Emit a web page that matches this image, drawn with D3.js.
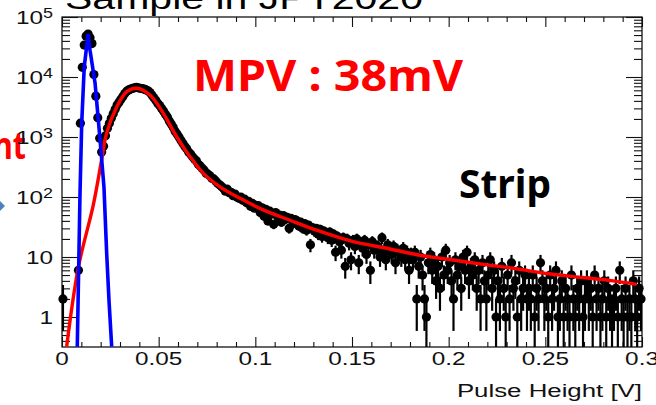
<!DOCTYPE html>
<html>
<head>
<meta charset="utf-8">
<script src="https://cdnjs.cloudflare.com/ajax/libs/d3/7.8.5/d3.min.js"></script>
<style>
  body { margin: 0; background: #fff; }
  svg { display: block; }
</style>
</head>
<body>
<div id="chart"></div>
<script>
// Histogram: 1 mV bins from 0 to 0.3 V
const binWidth = 0.001;
const countsPedestal = [2, 0, 0, 0, 0, 0, 0, 0, 6, 1700, 14500, 34000, 48000, 52000, 45000, 36000, 11000, 4800, 2100, 950, 560];
const countsPeak = [700, 1050, 1400, 1700, 2050, 2450, 2900, 3400, 3800, 4250, 4750, 5300, 5800, 6100, 6300, 6500, 6600, 6700, 6600, 6500,
  6400, 6300, 6100, 5900, 5500, 5000, 4500, 4100, 3650, 3350, 3000, 2700, 2400, 2150, 1850, 1650, 1450, 1250, 1120, 1000];
const countsFall = [880, 790, 700, 640, 560, 520, 470, 430, 400, 350, 330, 300, 280, 250, 240, 225, 205, 200, 185, 170,
  160, 150, 140, 125, 135, 118, 120, 105, 112, 100, 95, 100, 88, 92, 80, 85, 70, 78, 65, 72,
  72, 55, 66, 48, 62, 40, 58, 52, 35, 55, 47, 50, 38, 49, 42, 46, 30, 44, 36, 42];
const countsTail = [40, 33, 38, 30, 36, 28, 34, 16, 31, 27, 30, 24, 29, 22, 27, 25, 21, 26, 19, 24, 12, 22, 18, 13, 21, 7, 20, 17, 9, 19,
  15, 20, 8, 17, 14, 19, 11, 16, 6, 18, 13, 15, 15, 10, 21, 12, 9, 16, 14, 11, 15, 8, 13, 12, 10, 14, 9, 12, 6, 11,
  9, 12, 2, 7, 10, 5, 2, 1, 8, 11, 6, 9, 4, 7, 3, 10, 5, 13, 6, 8, 4, 2, 9, 5, 7, 3, 10, 6, 12, 4,
  7, 5, 9, 3, 6, 2, 8, 4, 2, 5, 9, 3, 6, 1, 4, 2, 7, 3, 1, 5, 2, 8, 3, 4, 1, 6, 2, 3, 5, 2,
  3, 2, 5, 1, 3, 2, 8, 4, 2, 3, 1, 5, 2, 3, 6, 1, 2, 4, 1, 3, 2, 1, 5, 2, 1, 3, 2, 4, 1, 2,
  4, 2, 3, 1, 5, 2, 3, 1, 2, 4, 1, 3, 2, 1, 2, 3, 1, 6, 2, 1, 3, 1, 2, 1, 4, 2, 1, 3, 2];

// Gaussian fit of the pedestal (blue) and Landau fit of the signal (red)
const pedFitV = [0.0079, 0.0093, 0.0102, 0.0115, 0.0135, 0.0145, 0.0171, 0.0197, 0.0217, 0.0231, 0.0243, 0.0257];
const pedFitN = [0.32, 108, 1700, 14700, 52000, 28000, 7900, 890, 147, 11.7, 1.9, 0.32];
const fitV = [0.0024, 0.0084, 0.0162, 0.0205, 0.0231, 0.0283, 0.0335, 0.0386, 0.0455, 0.0524, 0.0593, 0.0662, 0.0731, 0.0817,
  0.0921, 0.1041, 0.1179, 0.1317, 0.1507, 0.1679, 0.1852, 0.2024, 0.2197, 0.2334, 0.2507, 0.2679, 0.2852, 0.2972];
const fitN = [0.32, 6.6, 74, 415, 1170, 3160, 5700, 6500, 5000, 2480, 1010, 470, 248, 148,
  95, 61, 41, 28, 18, 14, 10.7, 8.9, 7.4, 6.5, 5.3, 4.6, 4.0, 3.5];

// Axes
const xMajor = [0, 0.05, 0.1, 0.15, 0.2, 0.25, 0.3];
const xLabels = ['0', '0.05', '0.1', '0.15', '0.2', '0.25', '0.3'];
const yMajor = [1e5, 1e4, 1e3, 1e2, 10, 1];
const yBase = ['10', '10', '10', '10', '10', '1'];
const yExp = ['5', '4', '3', '2', '', ''];

const W = 656, H = 405;
const plot = { left: 62, right: 642, top: 17, bottom: 347 };

const svg = d3.select('#chart').append('svg')
  .attr('width', W)
  .attr('height', H);

const x = d3.scaleLinear().domain([0, 0.3]).range([plot.left, plot.right]);
const y = d3.scaleLog().domain([Math.pow(10, -0.5), 1e5]).range([plot.bottom, plot.top]);

svg.append('clipPath').attr('id', 'clip')
  .append('rect')
  .attr('x', plot.left).attr('y', plot.top)
  .attr('width', plot.right - plot.left).attr('height', plot.bottom - plot.top);

// Slide text behind the chart
svg.append('text')
  .attr('x', 65).attr('y', 9)
  .attr('font-family', 'Liberation Sans, Arial, sans-serif')
  .attr('font-size', 31)
  .attr('textLength', 358).attr('lengthAdjust', 'spacingAndGlyphs')
  .text('Sample in JPT2020');

svg.append('text')
  .attr('x', 26).attr('y', 159)
  .attr('text-anchor', 'end')
  .attr('font-family', 'Noto Sans, sans-serif').attr('font-weight', 'bold')
  .attr('font-size', 37).attr('fill', '#ff0000')
  .attr('textLength', 33).attr('lengthAdjust', 'spacingAndGlyphs')
  .text('nt');

svg.append('path')
  .attr('d', 'M0,201 L5,206 L0,211 Z')
  .attr('fill', '#4f81bd');

// Frame
svg.append('rect')
  .attr('x', plot.left).attr('y', plot.top)
  .attr('width', plot.right - plot.left).attr('height', plot.bottom - plot.top)
  .attr('fill', 'none').attr('stroke', '#000').attr('stroke-width', 1.2);

// Tick marks
const xMinor = d3.range(0, 31).map(i => i / 100).filter(v => !xMajor.some(m => Math.abs(m - v) < 1e-9));
const yMinor = [];
[0.1, 1, 10, 100, 1000, 10000].forEach(d => {
  for (let k = 2; k <= 9; k++) {
    const v = d * k;
    if (v >= y.domain()[0] && v <= 1e5) yMinor.push(v);
  }
});

function tickAxis(axis, values, size, transform) {
  const g = svg.append('g')
    .attr('transform', transform)
    .call(axis.tickValues(values).tickSize(size).tickSizeOuter(0).tickFormat(''));
  g.select('.domain').remove();
  g.selectAll('line').attr('stroke', '#111').attr('stroke-width', 1.1);
}
tickAxis(d3.axisBottom(x), xMajor, -10, `translate(0,${plot.bottom})`);
tickAxis(d3.axisBottom(x), xMinor, -5, `translate(0,${plot.bottom})`);
tickAxis(d3.axisTop(x), xMajor, -10, `translate(0,${plot.top})`);
tickAxis(d3.axisTop(x), xMinor, -5, `translate(0,${plot.top})`);
tickAxis(d3.axisLeft(y), yMajor, -16, `translate(${plot.left},0)`);
tickAxis(d3.axisLeft(y), yMinor, -8, `translate(${plot.left},0)`);
tickAxis(d3.axisRight(y), yMajor, -16, `translate(${plot.right},0)`);
tickAxis(d3.axisRight(y), yMinor, -8, `translate(${plot.right},0)`);

// Tick labels (stretched, as in the original picture)
const labelFont = 'Liberation Sans, Arial, Helvetica, sans-serif';
xMajor.forEach((v, i) => {
  svg.append('g')
    .attr('transform', `translate(${x(v)},365) scale(1.28,1)`)
    .append('text')
    .attr('text-anchor', 'middle')
    .attr('font-family', labelFont).attr('font-size', 19)
    .attr('fill', '#111')
    .text(xLabels[i]);
});

yMajor.forEach((v, i) => {
  const t = svg.append('g')
    .attr('transform', `translate(53,${y(v) + 7}) scale(1.28,1)`)
    .append('text')
    .attr('text-anchor', 'end')
    .attr('font-family', labelFont).attr('font-size', 19)
    .attr('fill', '#111');
  t.append('tspan').text(yBase[i]);
  if (yExp[i]) t.append('tspan').attr('dy', -6).attr('font-size', 14).text(yExp[i]);
});

svg.append('g')
  .attr('transform', `translate(${plot.right},397) scale(1.36,1)`)
  .append('text')
  .attr('text-anchor', 'end')
  .attr('font-family', labelFont).attr('font-size', 19)
  .attr('fill', '#111')
  .text('Pulse Height [V]');

// Data points with Poisson error bars
const counts = countsPedestal.concat(countsPeak, countsFall, countsTail);
const bins = counts.map((n, i) => ({ v: (i + 0.5) * binWidth, n }))
  .filter(d => d.n > 0);

const [yMin, yMax] = y.domain();
svg.append('g')
  .attr('clip-path', 'url(#clip)')
  .selectAll('line')
  .data(bins)
  .join('line')
  .attr('x1', d => x(d.v)).attr('x2', d => x(d.v))
  .attr('y1', d => y(Math.max(d.n - Math.sqrt(d.n), yMin)))
  .attr('y2', d => y(Math.min(d.n + Math.sqrt(d.n), yMax)))
  .attr('stroke', '#000').attr('stroke-width', 2.2);

svg.append('g')
  .selectAll('circle')
  .data(bins)
  .join('circle')
  .attr('cx', d => x(d.v))
  .attr('cy', d => y(d.n))
  .attr('r', 4.6)
  .attr('fill', '#000');

// Fit curves
const curves = svg.append('g').attr('clip-path', 'url(#clip)');
const line = d3.line()
  .x(d => x(d[0]))
  .y(d => y(d[1]));

curves.append('path')
  .datum(fitV.map((v, i) => [v, fitN[i]]))
  .attr('d', line.curve(d3.curveCatmullRom.alpha(0.5)))
  .attr('fill', 'none').attr('stroke', '#ff0000').attr('stroke-width', 3.4);

curves.append('path')
  .datum(pedFitV.map((v, i) => [v, pedFitN[i]]))
  .attr('d', line.curve(d3.curveLinear))
  .attr('fill', 'none').attr('stroke', '#0000ff').attr('stroke-width', 3.6);

// Annotations
svg.append('text')
  .attr('x', 193).attr('y', 91)
  .attr('font-family', 'Noto Sans, sans-serif').attr('font-weight', 'bold')
  .attr('font-size', 43).attr('fill', '#ff0000')
  .attr('textLength', 270).attr('lengthAdjust', 'spacingAndGlyphs')
  .text('MPV : 38mV');

svg.append('text')
  .attr('x', 459).attr('y', 198)
  .attr('font-family', 'Noto Sans, sans-serif').attr('font-weight', 'bold')
  .attr('font-size', 40).attr('fill', '#000')
  .attr('textLength', 92).attr('lengthAdjust', 'spacingAndGlyphs')
  .text('Strip');
</script>
</body>
</html>
